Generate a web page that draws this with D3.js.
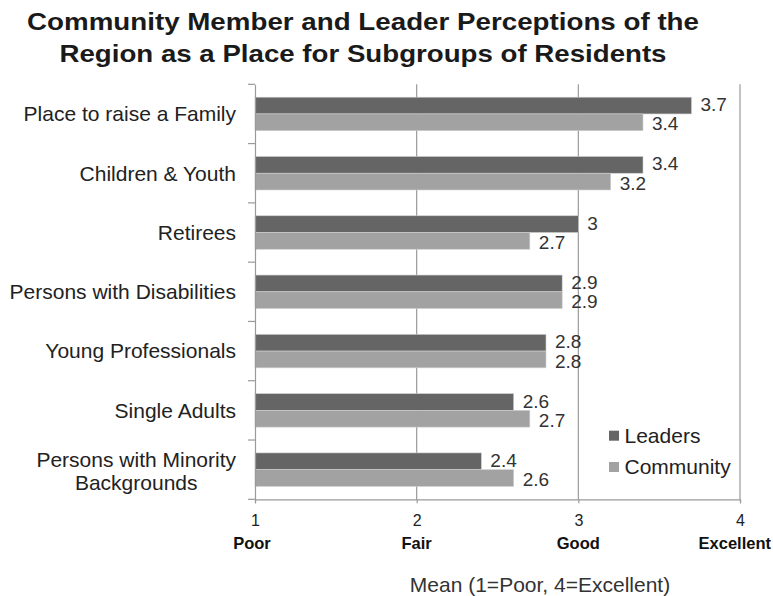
<!DOCTYPE html>
<html>
<head>
<meta charset="utf-8">
<script src="https://cdn.jsdelivr.net/npm/d3@7/dist/d3.min.js"></script>
<style>
  html, body { margin: 0; padding: 0; background: #fff; }
  svg { display: block; font-family: "Liberation Sans", Arial, sans-serif; }
</style>
</head>
<body>
<svg id="chart" width="773" height="596"></svg>
<script>
// Survey categories, top to bottom
const categories = [
  "Place to raise a Family",
  "Children & Youth",
  "Retirees",
  "Persons with Disabilities",
  "Young Professionals",
  "Single Adults",
  "Persons with Minority Backgrounds"
];
const seriesNames = ["Leaders", "Community"];
const leaders   = [3.7, 3.4, 3.0, 2.9, 2.8, 2.6, 2.4];
const community = [3.4, 3.2, 2.7, 2.9, 2.8, 2.7, 2.6];
const tickValues = [1, 2, 3, 4];
const tickWords  = ["Poor", "Fair", "Good", "Excellent"];

const colors = { Leaders: "#656565", Community: "#a2a2a2" };
const axisColor = "#9a9a9a";

const svg = d3.select("#chart");
const W = 773, H = 596;
const margin = { top: 84.3, left: 255, right: W - 740, bottom: H - 499.3 };

const x = d3.scaleLinear().domain([1, 4]).range([margin.left, W - margin.right]);
const y = d3.scaleBand().domain(categories).range([margin.top, H - margin.bottom]).padding(0);
const inner = d3.scaleBand().domain(seriesNames).range([0, y.bandwidth()])
  .paddingOuter(0.77).paddingInner(0);

const rows = categories.map((c, i) => ({ cat: c, values: [
  { key: "Leaders", v: leaders[i] },
  { key: "Community", v: community[i] }
]}));

// Title
const titleLines = [
  { text: "Community Member and Leader Perceptions of the", y: 30, len: 672 },
  { text: "Region as a Place for Subgroups of Residents", y: 61.7, len: 607 }
];
svg.append("g").selectAll("text").data(titleLines).join("text")
  .attr("x", 363).attr("y", d => d.y).attr("text-anchor", "middle")
  .attr("font-weight", "bold").attr("font-size", 24.5).attr("fill", "#1a1a1a")
  .attr("textLength", d => d.len).attr("lengthAdjust", "spacingAndGlyphs")
  .text(d => d.text);

// Vertical gridlines
svg.append("g").selectAll("line").data(tickValues.slice(1)).join("line")
  .attr("x1", d => x(d)).attr("x2", d => x(d))
  .attr("y1", margin.top).attr("y2", H - margin.bottom)
  .attr("stroke", axisColor).attr("stroke-width", 1.2);

// Bars
const groups = svg.append("g").selectAll("g").data(rows).join("g")
  .attr("transform", d => `translate(0,${y(d.cat)})`);

groups.selectAll("rect").data(d => d.values).join("rect")
  .attr("x", x(1))
  .attr("y", d => inner(d.key))
  .attr("width", d => x(d.v) - x(1))
  .attr("height", inner.bandwidth())
  .attr("fill", d => colors[d.key])
  .attr("stroke", "#cfcfcf").attr("stroke-width", 0.6);

// Value labels, nudged apart a little so stacked labels stay legible
groups.selectAll("text").data(d => d.values).join("text")
  .attr("x", d => x(d.v) + 9)
  .attr("y", d => inner(d.key) + inner.bandwidth() / 2 + (d.key === "Community" ? 1.5 : -1))
  .attr("dy", "0.35em")
  .attr("font-size", 19).attr("fill", "#333")
  .text(d => d3.format("")(d.v));

// Category axis line and separators
const yg = svg.append("g").attr("transform", `translate(${margin.left},0)`)
  .call(d3.axisLeft(y).tickSize(0).tickFormat(""));
yg.select(".domain").attr("stroke", axisColor).attr("stroke-width", 1.2);
svg.append("g").selectAll("line").data(d3.range(categories.length + 1)).join("line")
  .attr("x1", margin.left - 7).attr("x2", margin.left)
  .attr("y1", i => margin.top + i * y.step()).attr("y2", i => margin.top + i * y.step())
  .attr("stroke", axisColor).attr("stroke-width", 1.2);

// Category labels (long one wrapped onto two lines)
const wrap = { "Persons with Minority Backgrounds": ["Persons with Minority", "Backgrounds"] };
const labelRight = 236;
const catLabels = svg.append("g").selectAll("text").data(categories).join("text")
  .attr("text-anchor", "end").attr("font-size", 21).attr("fill", "#222");
catLabels.each(function(c) {
  const lines = wrap[c] || [c];
  const cy = y(c) + y.bandwidth() / 2 + (lines.length > 1 ? 1.5 : 0);
  const lh = 22.5;
  const t = d3.select(this);
  lines.forEach((ln, k) => {
    t.append("tspan").attr("x", labelRight)
      .attr("y", cy + (k - (lines.length - 1) / 2) * lh)
      .attr("dy", "0.35em").text(ln);
  });
});
// second line of a wrapped label is centred under the first
catLabels.filter(c => wrap[c]).each(function() {
  const ts = d3.select(this).selectAll("tspan").nodes();
  const w0 = ts[0].getComputedTextLength();
  const w1 = ts[1].getComputedTextLength();
  d3.select(ts[1]).attr("x", labelRight - (w0 - w1) / 2);
});

// Value axis
const xg = svg.append("g").attr("transform", `translate(0,${H - margin.bottom})`)
  .call(d3.axisBottom(x).tickValues(tickValues).tickSize(4).tickFormat(d3.format("d")));
xg.select(".domain").attr("stroke", axisColor).attr("stroke-width", 1.2);
xg.selectAll(".tick line").attr("stroke", axisColor).attr("stroke-width", 1.2);
xg.selectAll(".tick text").attr("font-size", 16).attr("fill", "#222")
  .attr("dy", "0").attr("y", 26.5)
  .attr("font-family", "Liberation Sans, Arial, sans-serif");

// Rating words under the tick numbers
svg.append("g").selectAll("text").data(tickValues).join("text")
  .attr("y", 548.5)
  .attr("text-anchor", "middle")
  .attr("font-weight", "bold").attr("font-size", 16.5).attr("fill", "#111")
  .text((d, i) => tickWords[i])
  .attr("x", function(d, i) {
    const w = this.getComputedTextLength();
    const cx = i === 0 ? x(d) - 3 : x(d);
    return Math.min(cx, W - 2 - w / 2);
  });

// Axis title
svg.append("text").attr("x", 540).attr("y", 591.5).attr("text-anchor", "middle")
  .attr("font-size", 21).attr("fill", "#333").text("Mean (1=Poor, 4=Excellent)");

// Legend
const legend = svg.append("g").selectAll("g").data(seriesNames).join("g")
  .attr("transform", (d, i) => `translate(609,${435.7 + i * 31.3})`);
legend.append("rect").attr("x", 0).attr("y", -5).attr("width", 10).attr("height", 10)
  .attr("fill", d => colors[d]);
legend.append("text").attr("x", 15.5).attr("dy", "0.35em").attr("font-size", 21).attr("fill", "#222")
  .text(d => d);
</script>
</body>
</html>
